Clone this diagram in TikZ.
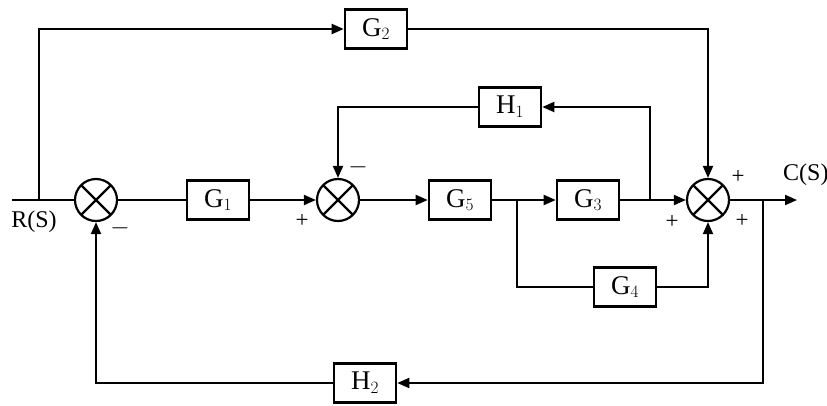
\documentclass[tikz,border=0pt]{standalone}
\usepackage{fontspec}
\setmainfont{Liberation Serif}
\usetikzlibrary{arrows.meta}
\tikzset{
  blk/.style={draw, line width=2.6pt, minimum width=62pt, minimum height=39pt, inner sep=0pt, font=\fontsize{27}{29}\selectfont},
  summ/.style={draw, circle, line width=2.2pt, minimum size=42pt, inner sep=0pt,
    path picture={\draw[line width=2.2pt] (path picture bounding box.north west) -- (path picture bounding box.south east)
      (path picture bounding box.north east) -- (path picture bounding box.south west);}},
  wire/.style={line width=2pt},
  arr/.style={line width=2pt, -{Triangle[length=12pt,width=10pt]}},
  sgn/.style={font=\fontsize{23}{25}\selectfont, inner sep=0pt},
  lbl/.style={font=\fontsize{24}{26}\selectfont, inner sep=0pt}
}
\begin{document}
\begin{tikzpicture}[x=1pt,y=-1pt]
\useasboundingbox (0,0) rectangle (827,405);
% summing junctions
\node[summ] (s1) at (96,200) {};
\node[summ] (s2) at (338,200) {};
\node[summ] (s3) at (708,200) {};
% blocks
\node[blk] (G1) at (218,200) {G$_1$};
\node[blk] (G2) at (376,29) {G$_2$};
\node[blk] (H1) at (510,107) {H$_1$};
\node[blk] (G5) at (460,200) {G$_5$};
\node[blk] (G3) at (588,200) {G$_3$};
\node[blk] (G4) at (625,287) {G$_4$};
\node[blk] (H2) at (365,383) {H$_2$};
% coordinates
\coordinate (in) at (12,200);
\coordinate (t1) at (39,200);
\coordinate (b1) at (517,200);
\coordinate (f1) at (650,200);
\coordinate (o1) at (763,200);
\coordinate (out) at (797,200);
% connections
\draw[wire] (in) -- (s1.west);
\draw[arr] (t1) |- (G2.west);
\draw[arr] (G2.east) -| (s3.north);
\draw[wire] (s1.east) -- (G1.west);
\draw[arr] (G1.east) -- (s2.west);
\draw[arr] (s2.east) -- (G5.west);
\draw[arr] (G5.east) -- (G3.west);
\draw[arr] (G3.east) -- (s3.west);
\draw[arr] (f1) |- (H1.east);
\draw[arr] (H1.west) -| (s2.north);
\draw[wire] (b1) |- (G4.west);
\draw[arr] (G4.east) -| (s3.south);
\draw[arr] (s3.east) -- (out);
\draw[arr] (o1) |- (H2.east);
\draw[arr] (H2.west) -| (s1.south);
% labels
\node[lbl] at (34,222) {R(S)};
\node[lbl, anchor=west] at (783,175) {C(S)};
\node[sgn] at (120,228) {$-$};
\node[sgn] at (302,221) {+};
\node[sgn] at (358,167) {$-$};
\node[sgn] at (738,177) {+};
\node[sgn] at (672,222) {+};
\node[sgn] at (742,221) {+};
\end{tikzpicture}
\end{document}
